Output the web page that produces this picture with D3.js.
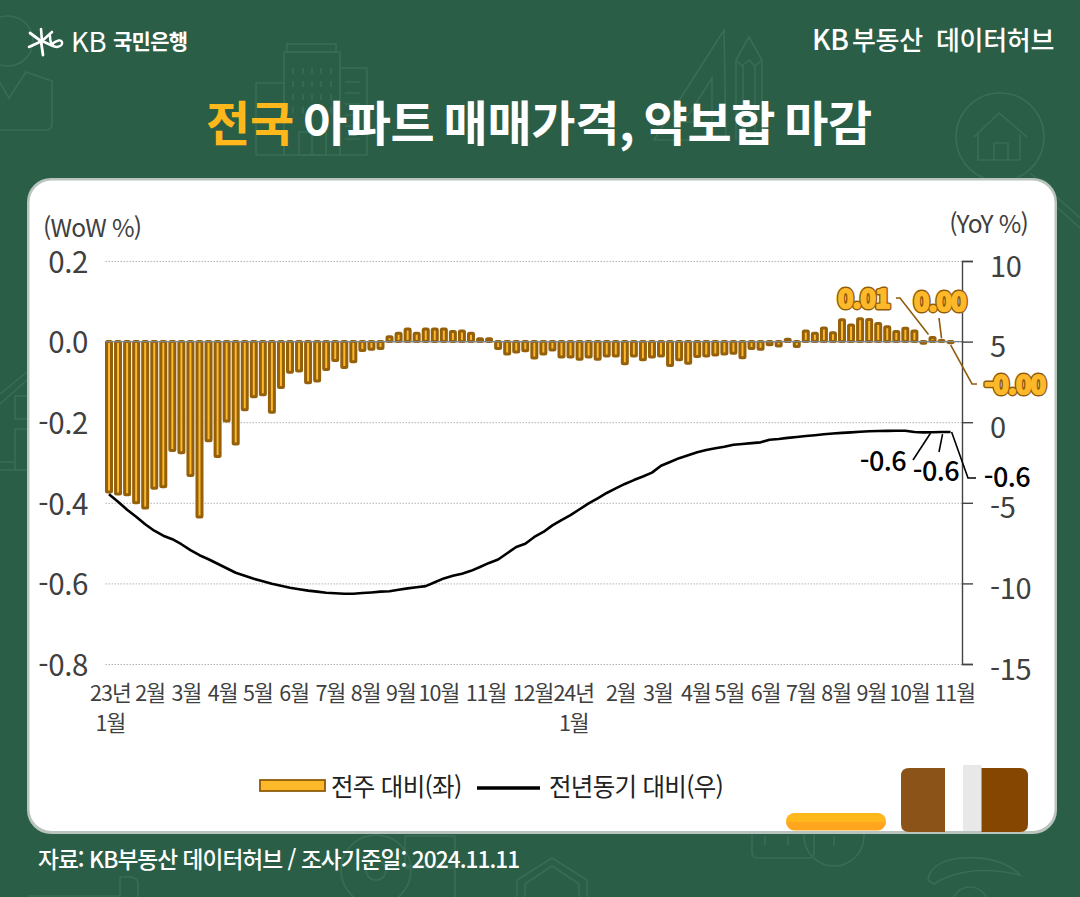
<!DOCTYPE html>
<html lang="ko">
<head>
<meta charset="utf-8">
<script src="https://cdn.jsdelivr.net/npm/d3@7"></script>
<style>
  html, body { margin: 0; padding: 0; background: #2a5e47; }
  svg { display: block; }
  text { font-family: "Noto Sans CJK KR", "Noto Sans", sans-serif; }
</style>
</head>
<body>
<svg id="chart" width="1080" height="897"></svg>
<script>
// 전주 대비 (WoW %), one value per weekly survey
const wowValues = [
  -0.373, -0.378, -0.38, -0.40, -0.413, -0.364, -0.36, -0.27, -0.276, -0.332,
  -0.435, -0.246, -0.285, -0.197, -0.254, -0.169, -0.137, -0.132, -0.175, -0.114,
  -0.076, -0.073, -0.102, -0.098, -0.069, -0.047, -0.064, -0.05, -0.022, -0.019,
  -0.017, 0.012, 0.021, 0.031, 0.021, 0.031, 0.031, 0.031, 0.025, 0.026,
  0.021, 0.007, 0.007, -0.017, -0.031, -0.026, -0.023, -0.041, -0.031, -0.021,
  -0.038, -0.038, -0.044, -0.038, -0.044, -0.036, -0.036, -0.055, -0.036, -0.045,
  -0.038, -0.036, -0.059, -0.045, -0.054, -0.037, -0.036, -0.033, -0.031, -0.029,
  -0.04, -0.017, -0.019, -0.008, -0.011, 0.006, -0.012, 0.026, 0.021, 0.034,
  0.022, 0.054, 0.041, 0.057, 0.055, 0.045, 0.037, 0.025, 0.033, 0.026,
  -0.004, 0.01, 0.003, -0.003,
];

// 전년동기 대비 (YoY %), same weeks
const yoyValues = [
  -4.47, -4.93, -5.43, -5.86, -6.33, -6.73, -7.04, -7.26, -7.57, -7.94,
  -8.25, -8.5, -8.78, -9.06, -9.34, -9.52, -9.71, -9.86, -10.02, -10.14,
  -10.27, -10.36, -10.45, -10.51, -10.58, -10.61, -10.64, -10.64, -10.6, -10.56,
  -10.51, -10.49, -10.39, -10.31, -10.24, -10.17, -9.93, -9.69, -9.53, -9.4,
  -9.22, -8.98, -8.73, -8.52, -8.13, -7.74, -7.54, -7.12, -6.81, -6.4,
  -6.07, -5.76, -5.4, -5.04, -4.72, -4.39, -4.11, -3.83, -3.59, -3.37,
  -3.13, -2.7, -2.47, -2.23, -2.05, -1.86, -1.73, -1.62, -1.52, -1.4,
  -1.35, -1.3, -1.25, -1.09, -1.04, -0.97, -0.92, -0.86, -0.81, -0.75,
  -0.7, -0.66, -0.63, -0.59, -0.56, -0.55, -0.54, -0.53, -0.53, -0.61,
  -0.63, -0.62, -0.61, -0.61,
];

const monthLabels = ['23년|1월', '2월', '3월', '4월', '5월', '6월', '7월', '8월', '9월', '10월', '11월', '12월',
  '24년|1월', '2월', '3월', '4월', '5월', '6월', '7월', '8월', '9월', '10월', '11월'];
// week index under each month label
const monthWeeks = [0.1, 4.5, 8.5, 12.5, 16.4, 20.4, 24.4, 28.3, 32.2, 36.4, 41.6, 46.8,
  51.3, 56.5, 60.6, 64.8, 68.5, 72.5, 76.4, 80.3, 84.2, 88.4, 93.4];

const wowTicks = [0.2, 0, -0.2, -0.4, -0.6, -0.8];
const yoyTicks = [10, 5, 0, -5, -10, -15];

const weeks = d3.range(wowValues.length);

// the picture uses a plain hyphen for negatives
const locale = d3.formatLocale({ decimal: '.', thousands: ',', grouping: [3], currency: ['', ''], minus: '-' });

const svg = d3.select('#chart');

const x = d3.scaleLinear().domain([0, weeks.length - 1]).range([109, 950.6]);
const yWow = d3.scaleLinear().domain([-0.8, 0.2]).range([664, 261]);
const yYoy = d3.scaleLinear().domain([-15, 10]).range([664, 261]);

// faint line icons behind everything
function drawBackground() {
  const g = svg.append('g').attr('fill', 'none').attr('stroke', '#3a6c56').attr('stroke-width', 1.6);
  const rect = (a, b, w, h, r = 0) => g.append('rect').attr('x', a).attr('y', b).attr('width', w).attr('height', h).attr('rx', r);
  const path = (d) => g.append('path').attr('d', d);
  const circle = (a, b, r) => g.append('circle').attr('cx', a).attr('cy', b).attr('r', r);

  // person, top left
  circle(8, 41, 25);
  path('M0 83L9 98L26 72L52 81V124Q52 130 46 130H0');

  // buildings
  rect(287, 44, 49, 8);
  rect(284, 52, 56, 103);
  rect(256, 83, 28, 72);
  rect(340, 68, 27, 87);
  rect(299, 132, 27, 23);
  path('M312 132V155');
  const windows = g.append('g').attr('stroke-dasharray', '6 7');
  [293, 303, 312, 321, 331].forEach((wx) => windows.append('line').attr('x1', wx).attr('x2', wx).attr('y1', 68).attr('y2', 120));
  path('M345 82H360M345 93H360M345 104H360M345 115H360M345 126H360M345 139H360');

  // set square and pencil
  path('M724 30L654 140H726Z');
  path('M712 78L684 122H712Z');
  path('M736 140V60L749 37L762 60V140M736 60L742 66L749 60L755 66L762 60M743 66V140M755 66V140');

  // magnifier with a house
  circle(1000, 137, 44);
  path('M974 137L999 113L1027 137M978 134V160H1020V134M994 160V143H1008V160');
  path('M1030 173L1080 218M1024 178L1080 228');

  // left edge
  path('M0 394L27 372M0 404L27 380');
  rect(15, 396, 14, 23);
  rect(15, 429, 14, 41);
  path('M0 462H15M0 470H15');

  // bottom row
  circle(376, 870, 35);
  circle(376, 870, 10);
  rect(405, 836, 50, 30);
  path('M405 868H455V897');
  path('M517 897V880L552 858L587 880V897M525 897V884L552 866L579 884V897');
  rect(752, 830, 62, 28, 5);
  circle(834, 836, 30);
  path('M765 836V845M788 836V845M834 836V846');
  path('M928 880Q930 862 960 858Q1000 855 1020 875Q990 868 966 872Q945 876 934 884Z');
  circle(970, 905, 18);
  path('M28 896H120V877H130Q138 877 138 885V897');
}

function drawHeader() {
  // KB star mark
  const mark = svg.append('g').attr('stroke', '#fff').attr('fill', 'none').attr('stroke-linecap', 'round');
  mark.append('path').attr('d', 'M29 47L42 41L53 46').attr('stroke-width', 2.6);
  mark.append('path').attr('d', 'M30 33L41 41L43 55').attr('stroke-width', 2.8);
  mark.append('path').attr('d', 'M41 29L42 41L52 32').attr('stroke-width', 2.6);
  mark.append('path').attr('d', 'M50 36Q50 47 57 47Q63 46 62 42Q60 38 52 44').attr('stroke-width', 2.4);

  svg.append('text').attr('x', 71).attr('y', 52).attr('fill', '#fff')
    .attr('font-size', 27.5).attr('font-weight', 400).attr('letter-spacing', -0.3).text('KB');
  svg.append('text').attr('x', 113).attr('y', 49).attr('fill', '#fff')
    .attr('font-size', 21).attr('font-weight', 700).attr('letter-spacing', -0.7).text('국민은행');

  const right = [['KB', 812, 28], ['부동산', 852, 26], ['데이터허브', 936, 26]];
  right.forEach(([t, tx, fs]) => {
    svg.append('text').attr('x', tx).attr('y', 50).attr('fill', '#fff')
      .attr('font-size', fs).attr('font-weight', 500).attr('letter-spacing', -0.3).text(t);
  });

  const title = svg.append('text').attr('x', 539).attr('y', 141).attr('text-anchor', 'middle')
    .attr('fill', '#fff').attr('font-size', 48).attr('font-weight', 700)
    .attr('letter-spacing', -0.3).attr('word-spacing', -4);
  title.append('tspan').attr('fill', '#ffb81c').text('전국');
  title.append('tspan').text(' 아파트 매매가격, 약보합 마감');
}

function drawCard() {
  svg.append('rect').attr('x', 27).attr('y', 178).attr('width', 1030).attr('height', 656)
    .attr('rx', 24).attr('fill', '#b9c4be');
  svg.append('rect').attr('x', 29.5).attr('y', 180.5).attr('width', 1025).attr('height', 650.5)
    .attr('rx', 22).attr('fill', '#fff');

  // block decoration at the corner of the card
  svg.append('path').attr('d', 'M945 768H909Q901 768 901 776V824Q901 832 909 832H945Z').attr('fill', '#8c5318');
  svg.append('rect').attr('x', 963).attr('y', 765).attr('width', 18.5).attr('height', 66).attr('fill', '#e8e8e8');
  svg.append('path').attr('d', 'M981.5 768H1020Q1028 768 1028 776V824Q1028 832 1020 832H981.5Z').attr('fill', '#844600');
  svg.append('rect').attr('x', 786).attr('y', 813).attr('width', 100).attr('height', 17.5).attr('rx', 8.7).attr('fill', '#ffa51e');
  svg.append('path').attr('d', 'M786 822V821.7A8.7 8.7 0 0 1 794.7 813H877.3A8.7 8.7 0 0 1 886 821.7V822Z').attr('fill', '#ffb81c');
}

function drawChart() {
  // gridlines
  const grid = svg.append('g').attr('class', 'gridlines')
    .attr('transform', 'translate(962,0)')
    .call(d3.axisLeft(yWow).tickValues(wowTicks).tickSize(857).tickFormat(''));
  grid.select('.domain').remove();
  grid.selectAll('line').attr('stroke', '#b4b4b4').attr('stroke-dasharray', '1.5 1.5').attr('stroke-width', 1);

  // left labels
  const left = svg.append('g').attr('class', 'y-axis')
    .attr('transform', 'translate(88,0)')
    .call(d3.axisLeft(yWow).tickValues(wowTicks).tickSize(0).tickPadding(0).tickFormat(locale.format('.1f')));
  left.select('.domain').remove();
  left.selectAll('text').attr('font-family', '"Noto Sans CJK KR"').attr('font-size', 29.5).attr('fill', '#404040')
    .attr('letter-spacing', -0.4).attr('dy', '0.38em');

  // bars
  svg.append('g').selectAll('rect').data(weeks).join('rect')
    .attr('x', (i) => x(i) - 2.5)
    .attr('width', 5)
    .attr('y', (i) => Math.min(yWow(0), yWow(wowValues[i])))
    .attr('height', (i) => Math.abs(yWow(wowValues[i]) - yWow(0)))
    .attr('rx', 1)
    .attr('fill', '#fdb92a')
    .attr('stroke', '#94600a')
    .attr('stroke-width', 3);

  // zero line sits on top of the bars
  svg.append('line').attr('x1', 105).attr('x2', 962).attr('y1', yWow(0)).attr('y2', yWow(0))
    .attr('stroke', '#7f8790').attr('stroke-width', 1.3);

  // YoY line
  const line = d3.line().x((i) => x(i)).y((i) => yYoy(yoyValues[i]));
  svg.append('path').datum(weeks).attr('d', line)
    .attr('fill', 'none').attr('stroke', '#000').attr('stroke-width', 2.6).attr('stroke-linejoin', 'round');

  // right axis
  const right = svg.append('g').attr('class', 'y-axis-right')
    .attr('transform', 'translate(962,0)')
    .call(d3.axisRight(yYoy).tickValues(yoyTicks).tickSize(11).tickSizeOuter(11).tickPadding(17).tickFormat(locale.format('d')));
  right.select('.domain').attr('stroke', '#444').attr('stroke-width', 1.4);
  right.selectAll('line').attr('stroke', '#444').attr('stroke-width', 1.4);
  right.selectAll('text').attr('font-family', '"Noto Sans CJK KR"').attr('font-size', 29).attr('fill', '#404040')
    .attr('letter-spacing', -0.4).attr('dy', '0.52em');

  // month axis
  const bottom = svg.append('g').attr('class', 'x-axis')
    .attr('transform', 'translate(0,680)')
    .call(d3.axisBottom(x).tickValues(monthWeeks).tickSize(0).tickPadding(0).tickFormat(() => ''));
  bottom.select('.domain').remove();
  bottom.selectAll('.tick text').each(function (d, i) {
    const parts = monthLabels[i].split('|');
    const t = d3.select(this).attr('font-family', '"Noto Sans CJK KR"').attr('font-size', 21.5).attr('fill', '#404040')
      .attr('letter-spacing', -1).attr('y', 0).attr('dy', 0);
    parts.forEach((p, j) => {
      t.append('tspan').attr('x', 0).attr('y', 21 + j * 30).text(p);
    });
  });

  svg.append('text').attr('x', 43).attr('y', 237).attr('fill', '#404040').attr('font-size', 24.5).attr('letter-spacing', -0.8).text('(WoW %)');
  svg.append('text').attr('x', 1028).attr('y', 233).attr('text-anchor', 'end').attr('fill', '#404040').attr('font-size', 24.5).attr('letter-spacing', -0.8).text('(YoY %)');
}

function drawCallouts() {
  const last = weeks.length - 1;
  const brown = '#8f5c0b';

  // leaders anchored on the last three weeks
  const wowLeaders = [
    [[x(last - 2) - 4, yWow(wowValues[last - 2]) - 3], [900, 298], [896, 298]],
    [[x(last - 1), yWow(wowValues[last - 1]) - 2], [939, 318]],
    [[x(last), yWow(wowValues[last]) + 2], [972, 384], [977, 384]],
  ];
  const yoyLeaders = [
    [[x(last - 3) + 7, yYoy(yoyValues[last - 2]) + 1], [913, 460]],
    [[x(last - 1) + 1, yYoy(yoyValues[last - 1]) + 2], [939, 452]],
    [[x(last) + 1, yYoy(yoyValues[last])], [968, 478], [976, 478]],
  ];
  const leader = d3.line();
  svg.append('g').selectAll('path').data(wowLeaders).join('path').attr('d', leader)
    .attr('fill', 'none').attr('stroke', brown).attr('stroke-width', 1.6);
  svg.append('g').selectAll('path').data(yoyLeaders).join('path').attr('d', leader)
    .attr('fill', 'none').attr('stroke', '#000').attr('stroke-width', 1.6);

  const wowLabels = [
    { text: locale.format('.2f')(wowValues[last - 2]), cx: 864, cy: 308 },
    { text: locale.format('.2f')(wowValues[last - 1]), cx: 940, cy: 311 },
    { text: '-0.00', cx: 1015, cy: 394 },
  ];
  const yoyLabels = [
    { text: '-0.6', cx: 883, cy: 471 },
    { text: '-0.6', cx: 936, cy: 481 },
    { text: '-0.6', cx: 1007, cy: 487 },
  ];

  wowLabels.forEach((d) => {
    [[brown, 5], ['#fdb92a', 2.2]].forEach(([c, w]) => {
      svg.append('text').attr('x', d.cx).attr('y', d.cy).attr('text-anchor', 'middle')
        .attr('font-size', 26).attr('font-weight', 700).attr('letter-spacing', -0.6)
        .attr('fill', '#fdb92a').attr('stroke', c).attr('stroke-width', w).attr('stroke-linejoin', 'round')
        .text(d.text);
    });
  });
  yoyLabels.forEach((d) => {
    svg.append('text').attr('x', d.cx).attr('y', d.cy).attr('text-anchor', 'middle')
      .attr('font-size', 27).attr('font-weight', 500).attr('fill', '#000').attr('letter-spacing', -0.5)
      .text(d.text);
  });
}

function drawLegend() {
  svg.append('rect').attr('x', 260).attr('y', 780).attr('width', 65).attr('height', 11)
    .attr('fill', '#fdb92a').attr('stroke', '#8f5c0b').attr('stroke-width', 1.8);
  svg.append('text').attr('x', 331).attr('y', 796).attr('fill', '#222').attr('font-size', 24.5).attr('letter-spacing', -0.7).text('전주 대비(좌)');
  svg.append('line').attr('x1', 477).attr('x2', 540).attr('y1', 788).attr('y2', 788).attr('stroke', '#000').attr('stroke-width', 3.4);
  svg.append('text').attr('x', 549).attr('y', 796).attr('fill', '#222').attr('font-size', 24.5).attr('letter-spacing', -0.7).text('전년동기 대비(우)');

  svg.append('text').attr('x', 38).attr('y', 868).attr('fill', '#fff').attr('font-size', 22.7).attr('font-weight', 500)
    .attr('letter-spacing', -0.95).text('자료: KB부동산 데이터허브 / 조사기준일: 2024.11.11');
}

drawBackground();
drawHeader();
drawCard();
drawChart();
drawCallouts();
drawLegend();
</script>
</body>
</html>
